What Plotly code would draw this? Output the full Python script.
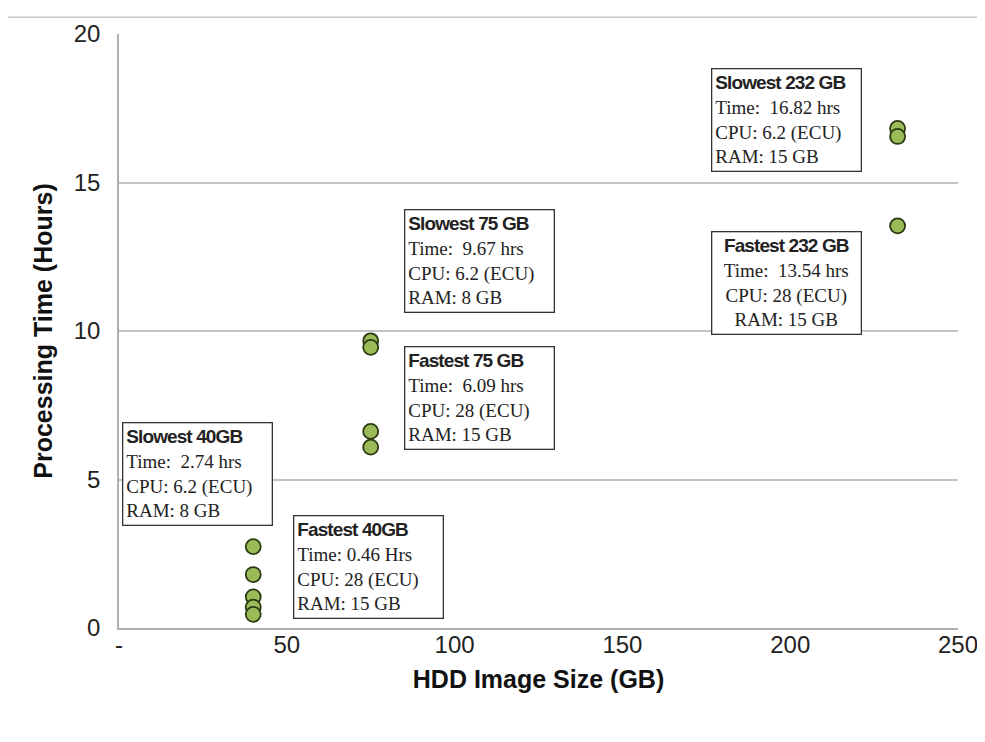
import plotly.graph_objects as go

# Data
sizes_gb = [40, 40, 40, 40, 40, 75, 75, 75, 75, 232, 232, 232]
hours = [2.74, 1.80, 1.05, 0.70, 0.46, 9.67, 9.45, 6.62, 6.09, 16.82, 16.55, 13.54]

x_tickvals = [0, 50, 100, 150, 200, 250]
x_ticktext = ["-", "50", "100", "150", "200", "250"]
y_tickvals = [0, 5, 10, 15, 20]

box_titles = ["Slowest 40GB", "Fastest 40GB", "Slowest 75 GB", "Fastest 75 GB", "Slowest 232 GB", "Fastest 232 GB"]
box_times = ["Time:&nbsp; 2.74 hrs", "Time: 0.46 Hrs", "Time:&nbsp; 9.67 hrs", "Time:&nbsp; 6.09 hrs", "Time:&nbsp; 16.82 hrs", "Time:&nbsp; 13.54 hrs"]
box_cpu = ["CPU: 6.2 (ECU)", "CPU: 28 (ECU)", "CPU: 6.2 (ECU)", "CPU: 28 (ECU)", "CPU: 6.2 (ECU)", "CPU: 28 (ECU)"]
box_ram = ["RAM: 8 GB", "RAM: 15 GB", "RAM: 8 GB", "RAM: 15 GB", "RAM: 15 GB", "RAM: 15 GB"]
box_x = [0.9, 51.7, 85.0, 85.0, 176.5, 176.5]
box_y = [6.95, 3.8, 14.1, 9.5, 18.85, 13.38]
box_align = ["left", "left", "left", "left", "left", "center"]

fig = go.Figure()
fig.add_trace(go.Scatter(
    x=sizes_gb, y=hours, mode="markers",
    marker=dict(size=15, color="#9bbb59", line=dict(color="#2b3a12", width=1.8)),
    showlegend=False, hoverinfo="x+y",
))

for t, tm, c, r, bx, by, al in zip(box_titles, box_times, box_cpu, box_ram, box_x, box_y, box_align):
    text = ("<span style='font-family:Liberation Sans;font-weight:bold;font-size:19px;letter-spacing:-0.9px'>" + t + "</span>"
            + "<br>" + tm + "<br>" + c + "<br>" + r)
    fig.add_annotation(
        x=bx, y=by, xref="x", yref="y", xanchor="left", yanchor="top",
        text=text, showarrow=False, align=al,
        font=dict(family="Liberation Serif", size=19, color="#222222"),
        bordercolor="#333333", borderwidth=1.3, borderpad=3,
        bgcolor="white", width=142,
    )

# top separator line
fig.add_shape(type="line", xref="paper", yref="paper", x0=-0.136, x1=1.03, y0=1.028, y1=1.028,
              line=dict(color="#c8c8c8", width=1.5))

fig.update_xaxes(
    range=[0, 250], tickvals=x_tickvals, ticktext=x_ticktext,
    showgrid=False, zeroline=False, showline=True, linecolor="#b0b0b0", linewidth=1.5,
    tickfont=dict(family="Liberation Sans", size=24, color="#222222"),
    ticks="", ticklen=0, ticklabelstandoff=-6,
    title=dict(text="<b>HDD Image Size (GB)</b>", font=dict(family="Liberation Sans", size=25, color="#111111"), standoff=14),
)
fig.update_yaxes(
    range=[0, 20], tickvals=y_tickvals,
    showgrid=True, gridcolor="#c4c4c4", gridwidth=1.5, zeroline=False,
    showline=True, linecolor="#b0b0b0", linewidth=1.5,
    tickfont=dict(family="Liberation Sans", size=24, color="#222222"),
    ticks="", ticklen=0, ticklabelstandoff=12,
    title=dict(text="<b>Processing Time (Hours)</b>", font=dict(family="Liberation Sans", size=25, color="#111111"), standoff=14),
)

fig.update_layout(
    width=982, height=726,
    margin=dict(l=111, r=30, t=19, b=106),
    paper_bgcolor="white", plot_bgcolor="white",
)

fig.write_html("out.html")
